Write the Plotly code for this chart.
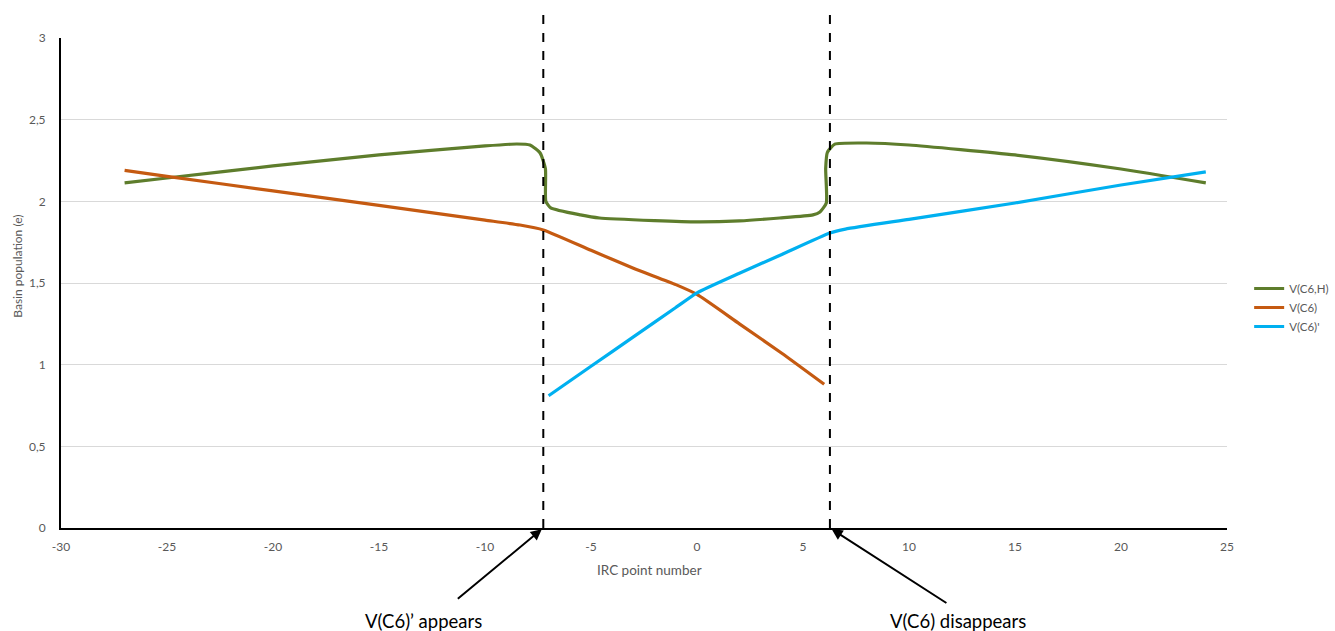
import plotly.graph_objects as go

# ---- data ----
vch_x = [-27, -25, -20, -15, -10, -8.5, -7.88, -7.4, -7.15, -7.13, -6.9, -5.5, -4.6, -2, 0, 2, 3.9, 5.47, 5.8, 6.1, 6.07, 6.15, 6.5, 8, 10, 15, 20, 24]
vch_y = [2.113, 2.143, 2.217, 2.284, 2.339, 2.351, 2.345, 2.296, 2.2, 2.0, 1.96, 1.917, 1.898, 1.882, 1.874, 1.880, 1.898, 1.917, 1.935, 1.99, 2.2, 2.3, 2.35, 2.357, 2.345, 2.284, 2.198, 2.113]

vc6_x = [-27, -25, -20, -15, -10, -8.35, -7.25, -5, -3, -1, 0, 2, 4, 6]
vc6_y = [2.19, 2.153, 2.064, 1.975, 1.885, 1.855, 1.825, 1.70, 1.59, 1.49, 1.43, 1.25, 1.07, 0.88]

vc6p_x = [-7, -5, -3, -1, 0, 2, 4, 6.27, 7, 10, 15, 20, 24]
vc6p_y = [0.81, 0.99, 1.17, 1.35, 1.44, 1.56, 1.675, 1.806, 1.83, 1.89, 1.99, 2.10, 2.18]

series_names = ["V(C6,H)", "V(C6)", "V(C6)'"]
series_colors = ["#5E7D2C", "#C55A11", "#00B0F0"]

x_ticks = [-30, -25, -20, -15, -10, -5, 0, 5, 10, 15, 20, 25]
x_tick_labels = ["-30", "-25", "-20", "-15", "-10", "-5", "0", "5", "10", "15", "20", "25"]
y_ticks = [0, 0.5, 1, 1.5, 2, 2.5, 3]
y_tick_labels = ["0", "0,5", "1", "1,5", "2", "2,5", "3"]

event_x = [-7.25, 6.27]
event_labels = ["V(C6)’ appears", "V(C6) disappears"]

fig = go.Figure()
for xs, ys, name, col in zip([vch_x, vc6_x, vc6p_x], [vch_y, vc6_y, vc6p_y], series_names, series_colors):
    fig.add_trace(go.Scatter(x=xs, y=ys, name=name, mode="lines",
                             line=dict(color=col, width=3.2, shape="spline", smoothing=0.5)))

# dashed vertical markers
for ex in event_x:
    fig.add_shape(type="line", xref="x", yref="paper", x0=ex, x1=ex, y0=0, y1=1.049,
                  line=dict(color="black", width=2, dash="dash"))

# arrows
arrow_offsets = [(-87, 72), (118, 76)]
for ex, (axo, ayo) in zip(event_x, arrow_offsets):
    fig.add_annotation(x=ex, y=0, xref="x", yref="y", text="", showarrow=True,
                       ax=axo, ay=ayo, arrowhead=2, arrowsize=1.1, arrowwidth=2, arrowcolor="black",
                       standoff=2)

text_pos = [0.3105, 0.769]
for tx, lab in zip(text_pos, event_labels):
    fig.add_annotation(x=tx, y=-0.19, xref="paper", yref="paper", text=lab, showarrow=False,
                       font=dict(family="Lato", size=18.5, color="black"), xanchor="center", yanchor="middle")

# axis titles
fig.add_annotation(x=0.5047, y=-0.086, xref="paper", yref="paper", text="IRC point number", showarrow=False,
                   font=dict(family="Lato", size=13.5, color="#595959"), xanchor="center", yanchor="middle")
fig.add_annotation(x=-0.037, y=0.535, xref="paper", yref="paper", text="Basin population (e)", showarrow=False,
                   textangle=-90, font=dict(family="Lato", size=12, color="#595959"),
                   xanchor="center", yanchor="middle")

fig.update_layout(
    width=1335, height=631,
    margin=dict(l=61, r=108, t=38, b=103, autoexpand=False),
    plot_bgcolor="white", paper_bgcolor="white",
    font=dict(family="Lato", size=12, color="#595959"),
    showlegend=True,
    legend=dict(x=1.019, y=0.45, xanchor="left", yanchor="middle",
                font=dict(family="Lato", size=11.5, color="#595959"),
                tracegroupgap=0, itemwidth=30, bgcolor="rgba(0,0,0,0)"),
    xaxis=dict(range=[-30, 25], tickvals=x_ticks, ticktext=x_tick_labels, showgrid=False, zeroline=False,
               showline=True, linecolor="black", linewidth=2, ticks="", ticklabelstandoff=7),
    yaxis=dict(range=[0, 3], tickvals=y_ticks, ticktext=y_tick_labels, showgrid=True, gridcolor="#D9D9D9",
               gridwidth=1, zeroline=False, showline=True, linecolor="black", linewidth=2, ticks="",
               ticklabelstandoff=11),
)

fig.write_html("out.html")
